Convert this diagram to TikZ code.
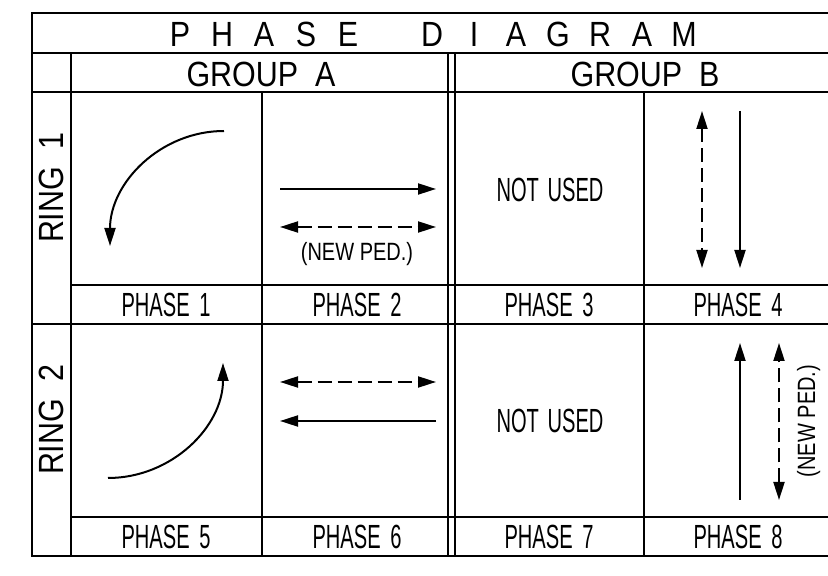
\documentclass[tikz,border=0pt]{standalone}
\usepackage{fontspec}
\usepackage{tikz}
\usetikzlibrary{arrows.meta}
\newfontfamily\hdrfont[FakeStretch=0.87]{Liberation Sans}
\newfontfamily\lblfont[FakeStretch=0.6]{Liberation Sans}
\newfontfamily\pedfont[FakeStretch=0.8]{Liberation Sans}
\tikzset{
  tabline/.style={line width=2.2pt},
  hdr/.style={font=\hdrfont\fontsize{35}{40}\selectfont, inner sep=0pt, anchor=base},
  lbl/.style={font=\lblfont\fontsize{33.5}{38}\selectfont, inner sep=0pt, anchor=base},
  pedlbl/.style={font=\pedfont\fontsize{25}{30}\selectfont, inner sep=0pt, anchor=base},
  flow/.style={-{Triangle[length=18pt,width=11pt]}, line width=2pt},
  pedflow/.style={{Triangle[length=18pt,width=11pt]}-{Triangle[length=18pt,width=11pt]},
    line width=2pt, dash pattern=on 14pt off 6pt}
}

\begin{document}
\begin{tikzpicture}[x=1pt,y=1pt]
  \useasboundingbox (0,0) rectangle (828,576);
  \fill[white] (0,0) rectangle (828,576);

  % table frame
  \draw[tabline] (32,20) rectangle (830,563);
  \foreach \y in {523,484,252} \draw[tabline] (32,\y) -- (830,\y);
  \foreach \y in {291,59} \draw[tabline] (71,\y) -- (830,\y);
  \foreach \x in {71,448,455} \draw[tabline] (\x,523) -- (\x,20);
  \foreach \x in {262,644} \draw[tabline] (\x,484) -- (\x,20);

  % headings
  \foreach \ch/\k in {P/0,H/1,A/2,S/3,E/4,D/6,I/7,A/8,G/9,R/10,A/11,M/12}
    \node[hdr] (title\k) at ({180+42*\k},529) {\ch};
  \node[hdr] (grpA) at (261,489) {GROUP\ \ A};
  \node[hdr] (grpB) at (645,489) {GROUP\ \ B};
  \node[hdr, rotate=90] (ring1) at (63,388) {RING\ \ 1};
  \node[hdr, rotate=90] (ring2) at (63,156) {RING\ \ 2};

  % phase labels
  \node[lbl] (ph1) at (166,259) {PHASE\hspace{4pt} 1};
  \node[lbl] (ph2) at (357,259) {PHASE\hspace{4pt} 2};
  \node[lbl] (ph3) at (549,259) {PHASE\hspace{4pt} 3};
  \node[lbl] (ph4) at (738,259) {PHASE\hspace{4pt} 4};
  \node[lbl] (ph5) at (166,27) {PHASE\hspace{4pt} 5};
  \node[lbl] (ph6) at (357,27) {PHASE\hspace{4pt} 6};
  \node[lbl] (ph7) at (549,27) {PHASE\hspace{4pt} 7};
  \node[lbl] (ph8) at (738,27) {PHASE\hspace{4pt} 8};
  \node[lbl] (unused3) at (550,374) {NOT\hspace{3pt} USED};
  \node[lbl] (unused7) at (550,143) {NOT\hspace{3pt} USED};
  \node[pedlbl] (ped2) at (357,315) {(NEW PED.)};
  \node[pedlbl, rotate=90] (ped8) at (815,155) {(NEW PED.)};

  % movements
  \coordinate (m1a) at (224,445); \coordinate (m1b) at (110,330);
  \coordinate (m2a) at (280,387); \coordinate (m2b) at (436,387);
  \coordinate (p2a) at (280,349); \coordinate (p2b) at (436,349);
  \coordinate (m4a) at (740,465); \coordinate (m4b) at (740,308);
  \coordinate (p4a) at (702,465); \coordinate (p4b) at (702,308);
  \coordinate (m5a) at (108,98);  \coordinate (m5b) at (223,213);
  \coordinate (m6a) at (436,155); \coordinate (m6b) at (280,155);
  \coordinate (p6a) at (280,194); \coordinate (p6b) at (436,194);
  \coordinate (m8a) at (740,76);  \coordinate (m8b) at (740,233);
  \coordinate (p8a) at (779,76);  \coordinate (p8b) at (779,233);

  \draw[flow] (m1a) to[out=180,in=90] (m1b);
  \draw[flow] (m2a) -- (m2b);
  \draw[pedflow] (p2a) -- (p2b);
  \draw[pedflow] (p4a) -- (p4b);
  \draw[flow] (m4a) -- (m4b);
  \draw[flow] (m5a) to[out=0,in=-90] (m5b);
  \draw[pedflow] (p6a) -- (p6b);
  \draw[flow] (m6a) -- (m6b);
  \draw[flow] (m8a) -- (m8b);
  \draw[pedflow] (p8a) -- (p8b);
\end{tikzpicture}
\end{document}
